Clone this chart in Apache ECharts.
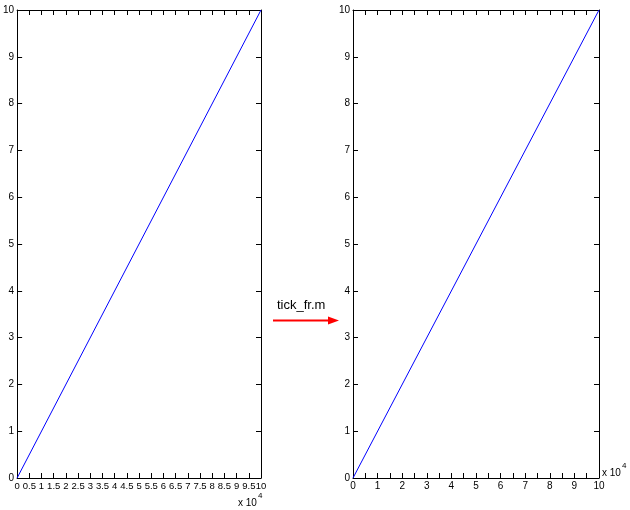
<!DOCTYPE html>
<html><head><meta charset="utf-8">
<script src="https://cdn.jsdelivr.net/npm/echarts@6/dist/echarts.min.js"></script>
<style>html,body{margin:0;padding:0;background:#fff}#c{width:630px;height:510px}</style>
</head><body><div id="c"></div>
<script>
const lineX = [0, 10];
const lineY = [0, 10];
const xMin = 0, xMax = 10, yMin = 0, yMax = 10;
const leftXStep = 0.5;
const rightXStep = 0.5;
const rightLabelStep = 1;
const yStep = 1;
const exponentText = ['x 10', '4'];
const arrowLabel = 'tick_fr.m';

const FONT = 'Liberation Sans, Arial, sans-serif';
const grids = [
  {left: 14, top: 10, width: 247, height: 468},
  {left: 353, top: 10, width: 246, height: 468}
];
const pts = lineX.map((x, i) => [x, lineY[i]]);

function xAx(gi, pos, step, showLabel, fmt, fs) {
  return {
    type: 'value', gridIndex: gi, position: pos, min: xMin, max: xMax, interval: step,
    axisLine: {show: true, onZero: false, lineStyle: {color: '#000', width: 1}},
    axisTick: {show: true, inside: true, length: 5, lineStyle: {color: '#000'}},
    axisLabel: {show: showLabel, color: '#000', fontSize: fs || 10, fontFamily: FONT, margin: 3, formatter: fmt,
                showMinLabel: true, showMaxLabel: true, hideOverlap: false},
    splitLine: {show: false}
  };
}
function yAx(gi, pos, showLabel) {
  return {
    type: 'value', gridIndex: gi, position: pos, min: yMin, max: yMax, interval: yStep,
    axisLine: {show: true, onZero: false, lineStyle: {color: '#000', width: 1}},
    axisTick: {show: true, inside: true, length: 5, lineStyle: {color: '#000'}},
    axisLabel: {show: showLabel, color: '#000', fontSize: 10, fontFamily: FONT, margin: 3,
                showMinLabel: true, showMaxLabel: true},
    splitLine: {show: false}
  };
}
const rightFmt = v => (Math.abs(v / rightLabelStep - Math.round(v / rightLabelStep)) < 1e-9 ? String(v) : '');

const chart = echarts.init(document.getElementById('c'));
chart.setOption({
  animation: false,
  backgroundColor: '#fff',
  grid: grids,
  xAxis: [
    xAx(0, 'bottom', leftXStep, true, v => String(v), 9.5),
    xAx(0, 'top', leftXStep, false),
    xAx(1, 'bottom', rightXStep, true, rightFmt),
    xAx(1, 'top', rightXStep, false)
  ],
  yAxis: [
    yAx(0, 'left', true),
    yAx(0, 'right', false),
    yAx(1, 'left', true),
    yAx(1, 'right', false)
  ],
  series: [
    {type: 'line', xAxisIndex: 0, yAxisIndex: 0, data: pts, showSymbol: false, symbol: 'none',
     lineStyle: {color: '#0000ff', width: 1}},
    {type: 'line', xAxisIndex: 2, yAxisIndex: 2, data: pts, showSymbol: false, symbol: 'none',
     lineStyle: {color: '#0000ff', width: 1}}
  ],
  graphic: [
    {type: 'text', left: 238, top: 492, style: {
      text: '{a|' + exponentText[0] + '}{b|' + exponentText[1] + '}',
      rich: {a: {fontSize: 10, fontFamily: FONT, fill: '#000', padding: [6, 0, 0, 0]},
             b: {fontSize: 8, fontFamily: FONT, fill: '#000', verticalAlign: 'top', padding: [0, 0, 6, 1]}}}},
    {type: 'text', left: 602, top: 462, style: {
      text: '{a|' + exponentText[0] + '}{b|' + exponentText[1] + '}',
      rich: {a: {fontSize: 10, fontFamily: FONT, fill: '#000', padding: [6, 0, 0, 0]},
             b: {fontSize: 8, fontFamily: FONT, fill: '#000', verticalAlign: 'top', padding: [0, 0, 6, 1]}}}},
    {type: 'text', left: 277, top: 299, style: {text: arrowLabel, fontSize: 13, fontFamily: FONT, fill: '#000'}},
    {type: 'line', shape: {x1: 273, y1: 320.5, x2: 330, y2: 320.5}, style: {stroke: '#ff0000', lineWidth: 2}},
    {type: 'polygon', shape: {points: [[328, 316.5], [339, 320.5], [328, 324.5]]}, style: {fill: '#ff0000'}}
  ]
});
</script></body></html>
